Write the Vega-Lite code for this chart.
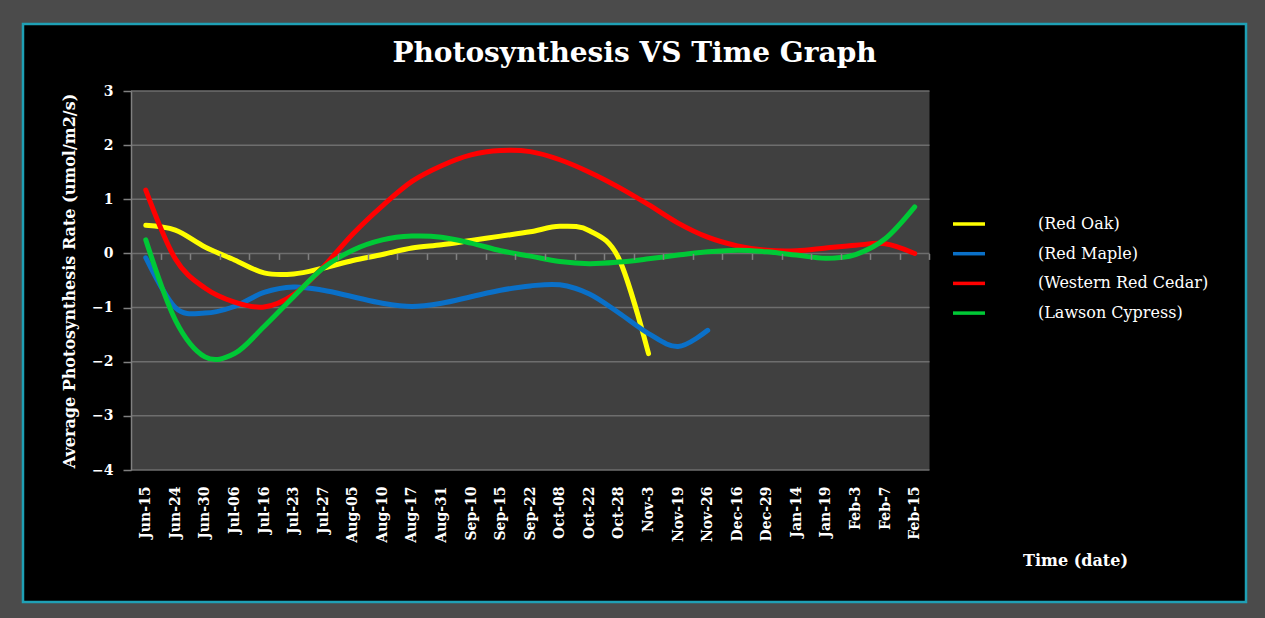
{
  "$schema": "https://vega.github.io/schema/vega-lite/v6.json",
  "width": 1223,
  "height": 578,
  "autosize": "none",
  "padding": {"left": 23, "top": 24, "right": 19, "bottom": 16},
  "background": "#4b4b4b",
  "title": {
    "text": "Photosynthesis VS Time Graph",
    "font": "DejaVu Serif",
    "fontSize": 28,
    "fontWeight": "bold",
    "color": "#ffffff",
    "anchor": "middle",
    "frame": "group",
    "offset": -44
  },
  "datasets": {
    "series": [
      {"date": "Jun-15", "tree": "(Red Oak)", "rate": 0.52},
      {"date": "Jun-24", "tree": "(Red Oak)", "rate": 0.43},
      {"date": "Jun-30", "tree": "(Red Oak)", "rate": 0.12},
      {"date": "Jul-06", "tree": "(Red Oak)", "rate": -0.12},
      {"date": "Jul-16", "tree": "(Red Oak)", "rate": -0.36},
      {"date": "Jul-23", "tree": "(Red Oak)", "rate": -0.38},
      {"date": "Jul-27", "tree": "(Red Oak)", "rate": -0.27},
      {"date": "Aug-05", "tree": "(Red Oak)", "rate": -0.13},
      {"date": "Aug-10", "tree": "(Red Oak)", "rate": -0.02},
      {"date": "Aug-17", "tree": "(Red Oak)", "rate": 0.1},
      {"date": "Aug-31", "tree": "(Red Oak)", "rate": 0.16},
      {"date": "Sep-10", "tree": "(Red Oak)", "rate": 0.24},
      {"date": "Sep-15", "tree": "(Red Oak)", "rate": 0.32},
      {"date": "Sep-22", "tree": "(Red Oak)", "rate": 0.4},
      {"date": "Oct-08", "tree": "(Red Oak)", "rate": 0.5},
      {"date": "Oct-22", "tree": "(Red Oak)", "rate": 0.42},
      {"date": "Oct-28", "tree": "(Red Oak)", "rate": -0.1},
      {"date": "Nov-3", "tree": "(Red Oak)", "rate": -1.85},
      {"date": "Jun-15", "tree": "(Red Maple)", "rate": -0.08},
      {"date": "Jun-24", "tree": "(Red Maple)", "rate": -1.0},
      {"date": "Jun-30", "tree": "(Red Maple)", "rate": -1.1},
      {"date": "Jul-06", "tree": "(Red Maple)", "rate": -0.98},
      {"date": "Jul-16", "tree": "(Red Maple)", "rate": -0.72},
      {"date": "Jul-23", "tree": "(Red Maple)", "rate": -0.62},
      {"date": "Jul-27", "tree": "(Red Maple)", "rate": -0.68},
      {"date": "Aug-05", "tree": "(Red Maple)", "rate": -0.8},
      {"date": "Aug-10", "tree": "(Red Maple)", "rate": -0.92},
      {"date": "Aug-17", "tree": "(Red Maple)", "rate": -0.98},
      {"date": "Aug-31", "tree": "(Red Maple)", "rate": -0.92},
      {"date": "Sep-10", "tree": "(Red Maple)", "rate": -0.8},
      {"date": "Sep-15", "tree": "(Red Maple)", "rate": -0.68},
      {"date": "Sep-22", "tree": "(Red Maple)", "rate": -0.6},
      {"date": "Oct-08", "tree": "(Red Maple)", "rate": -0.58},
      {"date": "Oct-22", "tree": "(Red Maple)", "rate": -0.75},
      {"date": "Oct-28", "tree": "(Red Maple)", "rate": -1.1},
      {"date": "Nov-3", "tree": "(Red Maple)", "rate": -1.48},
      {"date": "Nov-19", "tree": "(Red Maple)", "rate": -1.72},
      {"date": "Nov-26", "tree": "(Red Maple)", "rate": -1.42},
      {"date": "Jun-15", "tree": "(Western Red Cedar)", "rate": 1.17},
      {"date": "Jun-24", "tree": "(Western Red Cedar)", "rate": -0.1},
      {"date": "Jun-30", "tree": "(Western Red Cedar)", "rate": -0.64},
      {"date": "Jul-06", "tree": "(Western Red Cedar)", "rate": -0.9},
      {"date": "Jul-16", "tree": "(Western Red Cedar)", "rate": -0.99},
      {"date": "Jul-23", "tree": "(Western Red Cedar)", "rate": -0.76},
      {"date": "Jul-27", "tree": "(Western Red Cedar)", "rate": -0.25},
      {"date": "Aug-05", "tree": "(Western Red Cedar)", "rate": 0.36},
      {"date": "Aug-10", "tree": "(Western Red Cedar)", "rate": 0.88},
      {"date": "Aug-17", "tree": "(Western Red Cedar)", "rate": 1.33},
      {"date": "Aug-31", "tree": "(Western Red Cedar)", "rate": 1.62},
      {"date": "Sep-10", "tree": "(Western Red Cedar)", "rate": 1.82},
      {"date": "Sep-15", "tree": "(Western Red Cedar)", "rate": 1.9},
      {"date": "Sep-22", "tree": "(Western Red Cedar)", "rate": 1.88},
      {"date": "Oct-08", "tree": "(Western Red Cedar)", "rate": 1.73},
      {"date": "Oct-22", "tree": "(Western Red Cedar)", "rate": 1.5},
      {"date": "Oct-28", "tree": "(Western Red Cedar)", "rate": 1.22},
      {"date": "Nov-3", "tree": "(Western Red Cedar)", "rate": 0.9},
      {"date": "Nov-19", "tree": "(Western Red Cedar)", "rate": 0.56},
      {"date": "Nov-26", "tree": "(Western Red Cedar)", "rate": 0.3},
      {"date": "Dec-16", "tree": "(Western Red Cedar)", "rate": 0.14},
      {"date": "Dec-29", "tree": "(Western Red Cedar)", "rate": 0.06},
      {"date": "Jan-14", "tree": "(Western Red Cedar)", "rate": 0.05},
      {"date": "Jan-19", "tree": "(Western Red Cedar)", "rate": 0.1},
      {"date": "Feb-3", "tree": "(Western Red Cedar)", "rate": 0.15},
      {"date": "Feb-7", "tree": "(Western Red Cedar)", "rate": 0.18},
      {"date": "Feb-15", "tree": "(Western Red Cedar)", "rate": 0.0},
      {"date": "Jun-15", "tree": "(Lawson Cypress)", "rate": 0.25},
      {"date": "Jun-24", "tree": "(Lawson Cypress)", "rate": -1.23},
      {"date": "Jun-30", "tree": "(Lawson Cypress)", "rate": -1.91},
      {"date": "Jul-06", "tree": "(Lawson Cypress)", "rate": -1.85},
      {"date": "Jul-16", "tree": "(Lawson Cypress)", "rate": -1.35},
      {"date": "Jul-23", "tree": "(Lawson Cypress)", "rate": -0.8},
      {"date": "Jul-27", "tree": "(Lawson Cypress)", "rate": -0.27},
      {"date": "Aug-05", "tree": "(Lawson Cypress)", "rate": 0.06},
      {"date": "Aug-10", "tree": "(Lawson Cypress)", "rate": 0.25},
      {"date": "Aug-17", "tree": "(Lawson Cypress)", "rate": 0.32},
      {"date": "Aug-31", "tree": "(Lawson Cypress)", "rate": 0.3},
      {"date": "Sep-10", "tree": "(Lawson Cypress)", "rate": 0.19},
      {"date": "Sep-15", "tree": "(Lawson Cypress)", "rate": 0.05},
      {"date": "Sep-22", "tree": "(Lawson Cypress)", "rate": -0.05},
      {"date": "Oct-08", "tree": "(Lawson Cypress)", "rate": -0.15},
      {"date": "Oct-22", "tree": "(Lawson Cypress)", "rate": -0.19},
      {"date": "Oct-28", "tree": "(Lawson Cypress)", "rate": -0.16},
      {"date": "Nov-3", "tree": "(Lawson Cypress)", "rate": -0.1},
      {"date": "Nov-19", "tree": "(Lawson Cypress)", "rate": -0.03},
      {"date": "Nov-26", "tree": "(Lawson Cypress)", "rate": 0.03},
      {"date": "Dec-16", "tree": "(Lawson Cypress)", "rate": 0.06},
      {"date": "Dec-29", "tree": "(Lawson Cypress)", "rate": 0.03},
      {"date": "Jan-14", "tree": "(Lawson Cypress)", "rate": -0.03},
      {"date": "Jan-19", "tree": "(Lawson Cypress)", "rate": -0.09},
      {"date": "Feb-3", "tree": "(Lawson Cypress)", "rate": -0.02},
      {"date": "Feb-7", "tree": "(Lawson Cypress)", "rate": 0.27},
      {"date": "Feb-15", "tree": "(Lawson Cypress)", "rate": 0.86}
    ],
    "levels": [
      {"level": -4}, {"level": -3}, {"level": -2}, {"level": -1},
      {"level": 0}, {"level": 1}, {"level": 2}, {"level": 3}
    ]
  },
  "resolve": {"axis": {"x": "independent", "y": "independent"}},
  "layer": [
    {
      "data": {"values": [{"panel": "plot"}]},
      "mark": {"type": "rect", "fill": "#404040"},
      "encoding": {
        "x": {"datum": "Jun-15", "bandPosition": 0, "axis": null},
        "x2": {"datum": "Feb-15", "bandPosition": 1},
        "y": {"datum": -4, "type": "quantitative", "axis": null},
        "y2": {"datum": 3}
      }
    },
    {
      "data": {"name": "levels"},
      "mark": {"type": "rule", "color": "#6e6e6e", "strokeWidth": 1.5},
      "encoding": {
        "x": {"datum": "Jun-15", "bandPosition": 0, "axis": null},
        "x2": {"datum": "Feb-15", "bandPosition": 1},
        "y": {"field": "level", "type": "quantitative", "axis": null}
      }
    },
    {
      "data": {"name": "series"},
      "mark": {"type": "line", "interpolate": "cardinal", "strokeWidth": 5, "strokeCap": "round", "strokeJoin": "round"},
      "encoding": {
        "x": {
          "field": "date",
          "type": "nominal",
          "sort": null,
          "scale": {
            "domain": ["Jun-15", "Jun-24", "Jun-30", "Jul-06", "Jul-16", "Jul-23", "Jul-27", "Aug-05", "Aug-10", "Aug-17", "Aug-31", "Sep-10", "Sep-15", "Sep-22", "Oct-08", "Oct-22", "Oct-28", "Nov-3", "Nov-19", "Nov-26", "Dec-16", "Dec-29", "Jan-14", "Jan-19", "Feb-3", "Feb-7", "Feb-15"],
            "range": [108, 906.5],
            "paddingInner": 0,
            "paddingOuter": 0
          },
          "axis": {
            "title": "Time (date)",
            "orient": "bottom",
            "offset": -348.6,
            "tickBand": "extent",
            "ticks": true,
            "tickSize": 6,
            "tickColor": "#808080",
            "tickWidth": 1.5,
            "domain": false,
            "grid": false,
            "labelAngle": -90,
            "labelPadding": 226.6,
            "labelFont": "DejaVu Serif",
            "labelFontSize": 14,
            "labelFontWeight": "bold",
            "labelColor": "#ffffff",
            "labelOverlap": false,
            "titleX": 1052,
            "titleY": 306.6,
            "titleAlign": "center",
            "titleBaseline": "middle",
            "titleAngle": 0,
            "titleFont": "DejaVu Serif",
            "titleFontSize": 16,
            "titleFontWeight": "bold",
            "titleColor": "#ffffff",
            "zindex": 1
          }
        },
        "y": {
          "field": "rate",
          "type": "quantitative",
          "scale": {"domain": [-4, 3], "range": [446, 67], "nice": false, "zero": false},
          "axis": {
            "title": "Average Photosynthesis Rate (umol/m2/s)",
            "offset": -108,
            "values": [-4, -3, -2, -1, 0, 1, 2, 3],
            "grid": false,
            "domainColor": "#808080",
            "domainWidth": 1.5,
            "tickColor": "#808080",
            "tickWidth": 1.5,
            "tickSize": 8,
            "labelPadding": 10,
            "labelFont": "DejaVu Serif",
            "labelFontSize": 14,
            "labelFontWeight": "bold",
            "labelColor": "#ffffff",
            "titleFont": "DejaVu Serif",
            "titleFontSize": 16,
            "titleFontWeight": "bold",
            "titleColor": "#ffffff",
            "titlePadding": 14,
            "zindex": 1
          }
        },
        "color": {
          "field": "tree",
          "type": "nominal",
          "scale": {
            "domain": ["(Red Oak)", "(Red Maple)", "(Western Red Cedar)", "(Lawson Cypress)"],
            "range": ["#ffff00", "#0a70c8", "#ff0000", "#00c936"]
          },
          "legend": {
            "orient": "none",
            "legendX": 928,
            "legendY": 182,
            "title": null,
            "symbolType": "stroke",
            "symbolSize": 1024,
            "symbolStrokeWidth": 3.5,
            "labelOffset": 51,
            "labelFont": "DejaVu Serif",
            "labelFontSize": 16,
            "labelColor": "#ffffff",
            "labelLimit": 300,
            "rowPadding": 3.7,
            "padding": 0
          }
        }
      }
    }
  ],
  "config": {
    "view": {"fill": "#000000", "stroke": "#1fa0b5", "strokeWidth": 2.5}
  }
}
